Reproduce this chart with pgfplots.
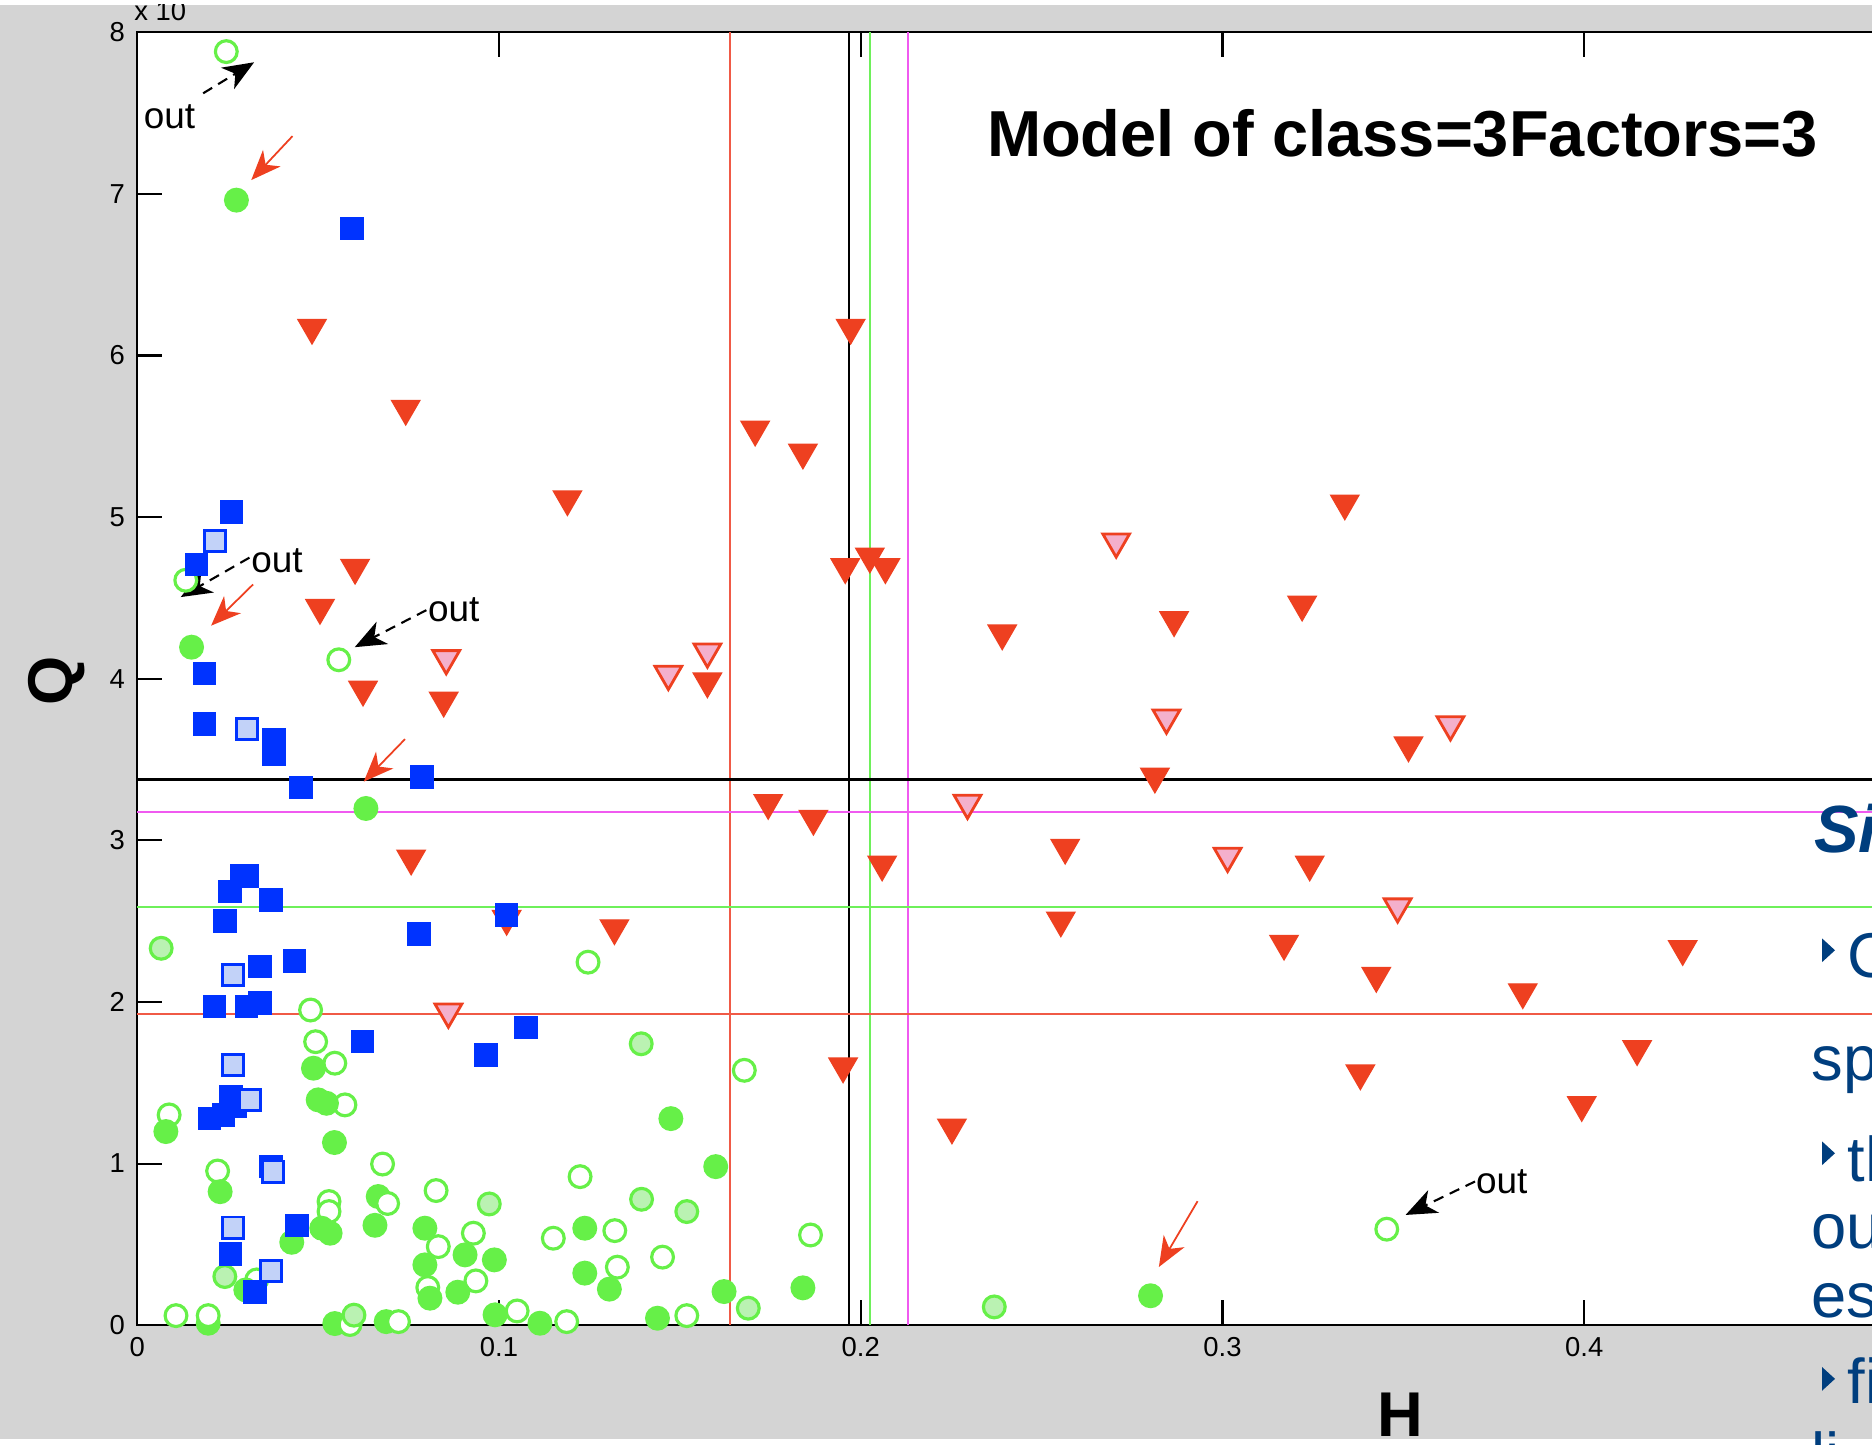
\documentclass[border=0pt]{standalone}
\usepackage{fontspec}
\setmainfont{Liberation Sans}
\usepackage{pgfplots}
\pgfplotsset{compat=1.18}
\usetikzlibrary{arrows.meta}
\definecolor{bggray}{RGB}{212,212,212}
\definecolor{cblue}{RGB}{0,51,255}
\definecolor{clblue}{RGB}{194,210,248}
\definecolor{cgreen}{RGB}{102,240,72}
\definecolor{clgreen}{RGB}{186,242,178}
\definecolor{cred}{RGB}{238,64,32}
\definecolor{cpink}{RGB}{244,176,204}
\definecolor{lred}{RGB}{240,90,70}
\definecolor{lgreen}{RGB}{110,240,90}
\definecolor{lmag}{RGB}{240,90,240}
\definecolor{slideblue}{RGB}{0,62,126}
\pgfplotsset{
  bsq/.style={only marks, mark=square*, mark size=3.1pt, mark options={draw=cblue, fill=cblue, line width=0.5pt}},
  lbsq/.style={only marks, mark=square*, mark size=3.0pt, mark options={draw=cblue, fill=clblue, line width=0.8pt}},
  gfc/.style={only marks, mark=*, mark size=3.3pt, mark options={draw=cgreen, fill=cgreen, line width=0.5pt}},
  goc/.style={only marks, mark=*, mark size=3.1pt, mark options={draw=cgreen, fill=white, line width=0.9pt}},
  glc/.style={only marks, mark=*, mark size=3.1pt, mark options={draw=cgreen, fill=clgreen, line width=0.9pt}},
  rtr/.style={only marks, mark=triangle*, mark size=4.6pt, mark options={yshift=1.15pt, rotate=180, draw=cred, fill=cred, line width=0.4pt}},
  ptr/.style={only marks, mark=triangle*, mark size=4.4pt, mark options={yshift=1.1pt, rotate=180, draw=cred, fill=cpink, line width=0.8pt}},
}
\tikzset{
  outlbl/.style={font=\fontsize{10.5}{12}\selectfont},
  blk/.style={densely dashed, line width=0.6pt, -{Stealth[length=3.1mm,width=2.5mm,inset=0.9mm]}},
  rda/.style={cred, line width=0.5pt, -{Stealth[length=3.0mm,width=2.4mm,inset=0.9mm]}},
}
\begin{document}
\begin{tikzpicture}
\path[use as bounding box] (0,0) rectangle (187.2mm,144.46mm);
\clip (0,0) rectangle (187.2mm,144.46mm);
\fill[white] (0,0) rectangle (187.2mm,144.46mm);
\begin{scope}
\clip (0,0.60mm) rectangle (187.2mm,143.98mm);
\fill[bggray] (0,0.60mm) rectangle (187.2mm,143.98mm);
\begin{axis}[
  at={(13.73mm,11.94mm)}, anchor=south west,
  scale only axis, width=174.0mm, height=129.30mm,
  xmin=0, xmax=0.481, ymin=0, ymax=8,
  axis background/.style={fill=white},
  clip=false,
  xtick={0,0.1,0.2,0.3,0.4}, ytick={0,1,2,3,4,5,6,7,8},
  xtick pos=both, xticklabel pos=lower, ytick pos=left,
  tick align=inside, major tick length=2.5mm,
  scaled ticks=false,
  axis line style={line width=0.6pt, black},
  tick style={line width=0.6pt, black},
  tick label style={font=\fontsize{7.8}{9}\selectfont},
  /pgf/number format/assume math mode=true,
]
% green open circles
\addplot[goc] coordinates {
(0.0246,7.88) (0.0134,4.609) (0.0557,4.117) (0.1246,2.246) (0.0479,1.950)
(0.0493,1.754) (0.0546,1.621) (0.0574,1.363) (0.0088,1.301) (0.0222,0.954)
(0.0678,0.997) (0.1224,0.919) (0.0826,0.833) (0.0530,0.765) (0.0530,0.703)
(0.0929,0.569) (0.1320,0.585) (0.1150,0.538) (0.0832,0.486) (0.1452,0.421)
(0.1327,0.359) (0.0936,0.274) (0.0803,0.233) (0.0330,0.280) (0.1678,1.577)
(0.1861,0.558) (0.3454,0.594)
};
% green filled circles
\addplot[gfc] coordinates {
(0.0274,6.961) (0.0150,4.195) (0.0632,3.197) (0.0487,1.590) (0.0500,1.394)
(0.0523,1.373) (0.0079,1.198) (0.1475,1.278) (0.0545,1.130) (0.0229,0.826)
(0.0666,0.796) (0.0510,0.600) (0.0533,0.569) (0.0657,0.618) (0.0795,0.600)
(0.1237,0.600) (0.0427,0.513) (0.0906,0.435) (0.0987,0.404) (0.0795,0.373)
(0.1237,0.322) (0.1305,0.223) (0.0886,0.204) (0.0809,0.167) (0.0300,0.218)
(0.0196,0.012) (0.0546,0.010) (0.0688,0.022) (0.0989,0.064) (0.1113,0.012)
(0.1438,0.043) (0.1599,0.981) (0.1622,0.208) (0.1840,0.231) (0.2801,0.182)
};
% green open circles drawn over the filled ones
\addplot[goc] coordinates {
(0.0692,0.753) (0.0107,0.059) (0.0196,0.059) (0.0588,0.004) (0.0722,0.022)
(0.1050,0.088) (0.1187,0.022) (0.1519,0.059)
};
% light green circles
\addplot[glc] coordinates {
(0.0066,2.332) (0.1393,1.741) (0.0973,0.750) (0.1394,0.779) (0.1519,0.703)
(0.0242,0.301) (0.0599,0.062) (0.1689,0.105) (0.2369,0.113)
};
% red triangles
\addplot[rtr] coordinates {
(0.0483,6.147) (0.0742,5.646) (0.1189,5.086) (0.0602,4.662) (0.0505,4.414)
(0.0624,3.908) (0.0847,3.840) (0.0757,2.863) (0.1021,2.490) (0.1319,2.432)
(0.1576,3.959) (0.1972,6.147) (0.1708,5.517) (0.1840,5.375) (0.1957,4.666)
(0.2025,4.732) (0.2068,4.666) (0.3338,5.060) (0.3220,4.434) (0.2866,4.338)
(0.2391,4.256) (0.2813,3.370) (0.1744,3.207) (0.1869,3.109) (0.2565,2.930)
(0.2059,2.826) (0.3241,2.826) (0.2553,2.480) (0.3170,2.336) (0.3514,3.563)
(0.4272,2.303) (0.3425,2.137) (0.3830,2.036) (0.4146,1.684) (0.3381,1.534)
(0.3993,1.338) (0.1951,1.577) (0.2252,1.199)
};
% pink triangles
\addplot[ptr] coordinates {
(0.0854,4.102) (0.1468,4.005) (0.1576,4.143) (0.2706,4.824) (0.2845,3.734)
(0.2295,3.207) (0.3014,2.879) (0.3630,3.693) (0.3484,2.566) (0.0860,1.915)
};
% blue squares
\addplot[bsq] coordinates {
(0.0594,6.785) (0.0261,5.033) (0.0164,4.707) (0.0186,4.031) (0.0186,3.719)
(0.0378,3.620) (0.0378,3.530) (0.0453,3.328) (0.0787,3.391) (0.0290,2.780)
(0.0305,2.780) (0.0256,2.682) (0.0369,2.631) (0.0243,2.501) (0.0779,2.420)
(0.1021,2.539) (0.0339,2.218) (0.0434,2.253) (0.0213,1.971) (0.0302,1.971)
(0.0339,1.992) (0.1074,1.842) (0.0623,1.754) (0.0964,1.673) (0.0259,1.414)
(0.0199,1.280) (0.0238,1.301) (0.0270,1.352) (0.0370,0.981) (0.0442,0.618)
(0.0258,0.439) (0.0325,0.204)
};
% light blue squares
\addplot[lbsq] coordinates {
(0.0215,4.852) (0.0304,3.689) (0.0265,2.167) (0.0265,1.610) (0.0311,1.394)
(0.0376,0.950) (0.0265,0.604) (0.0369,0.336)
};
% reference lines
\addplot[lred, line width=0.5pt, no marks] coordinates {(0.1638,0) (0.1638,8)};
\addplot[black, line width=0.7pt, no marks] coordinates {(0.1968,0) (0.1968,8)};
\addplot[lgreen, line width=0.6pt, no marks] coordinates {(0.2026,0) (0.2026,8)};
\addplot[lmag, line width=0.6pt, no marks] coordinates {(0.2130,0) (0.2130,8)};
\addplot[black, line width=0.8pt, no marks] coordinates {(0,3.375) (0.481,3.375)};
\addplot[lmag, line width=0.6pt, no marks] coordinates {(0,3.176) (0.481,3.176)};
\addplot[lgreen, line width=0.6pt, no marks] coordinates {(0,2.585) (0.481,2.585)};
\addplot[lred, line width=0.6pt, no marks] coordinates {(0,1.928) (0.481,1.928)};
% annotations
\node[outlbl] at (axis cs:0.0089,7.474) {out};
\draw[blk] (axis cs:0.0182,7.622) -- (axis cs:0.0323,7.814);
\node[outlbl] at (axis cs:0.0386,4.727) {out};
\draw[blk] (axis cs:0.0310,4.749) -- (axis cs:0.0120,4.505);
\node[outlbl] at (axis cs:0.0875,4.424) {out};
\draw[blk] (axis cs:0.0799,4.424) -- (axis cs:0.0601,4.195);
\node[outlbl] at (axis cs:0.3772,0.886) {out};
\draw[blk] (axis cs:0.3698,0.889) -- (axis cs:0.3506,0.682);
\draw[rda] (axis cs:0.0429,7.357) -- (axis cs:0.0315,7.085);
\draw[rda] (axis cs:0.0320,4.583) -- (axis cs:0.0204,4.328);
\draw[rda] (axis cs:0.0740,3.626) -- (axis cs:0.0626,3.363);
\draw[rda] (axis cs:0.2931,0.767) -- (axis cs:0.2824,0.360);
% title and labels
\node[font=\fontsize{18.5}{22}\selectfont\bfseries, anchor=base west, inner sep=0pt] at (axis cs:0.2347,7.230) {Model of class=3Factors=3};
\node[font=\fontsize{18}{22}\selectfont\bfseries, rotate=90] at (axis cs:-0.0224,3.988) {Q};
\node[font=\fontsize{18}{22}\selectfont\bfseries, anchor=base] at (axis cs:0.3492,-0.687) {H};
\node[font=\fontsize{7.8}{9}\selectfont, anchor=base west, inner sep=0pt] at (axis cs:-0.001,8.070) {x 10};
\end{axis}
\end{scope}
% slide text at the right edge (cut by the edge, as in the reference)
\begin{scope}[slideblue, font=\fontsize{18}{22}\selectfont]
\node[anchor=base west, inner sep=0pt, font=\fontsize{19}{22}\selectfont\bfseries\itshape] at (181.35mm,59.22mm) {Si};
\fill (182.2mm,48.24mm) -- (183.5mm,49.43mm) -- (182.2mm,50.62mm) -- cycle;
\node[anchor=base west, inner sep=0pt] at (184.70mm,46.68mm) {C};
\node[anchor=base west, inner sep=0pt] at (181.11mm,36.41mm) {sp};
\fill (182.2mm,27.94mm) -- (183.5mm,29.13mm) -- (182.2mm,30.32mm) -- cycle;
\node[anchor=base west, inner sep=0pt] at (184.70mm,26.27mm) {th};
\node[anchor=base west, inner sep=0pt] at (181.11mm,19.58mm) {ou};
\node[anchor=base west, inner sep=0pt] at (181.11mm,12.66mm) {es};
\fill (182.2mm,5.38mm) -- (183.5mm,6.57mm) -- (182.2mm,7.76mm) -- cycle;
\node[anchor=base west, inner sep=0pt] at (184.70mm,4.06mm) {fi};
\node[anchor=base west, inner sep=0pt] at (181.11mm,-3.34mm) {li};
\end{scope}
\end{tikzpicture}
\end{document}
